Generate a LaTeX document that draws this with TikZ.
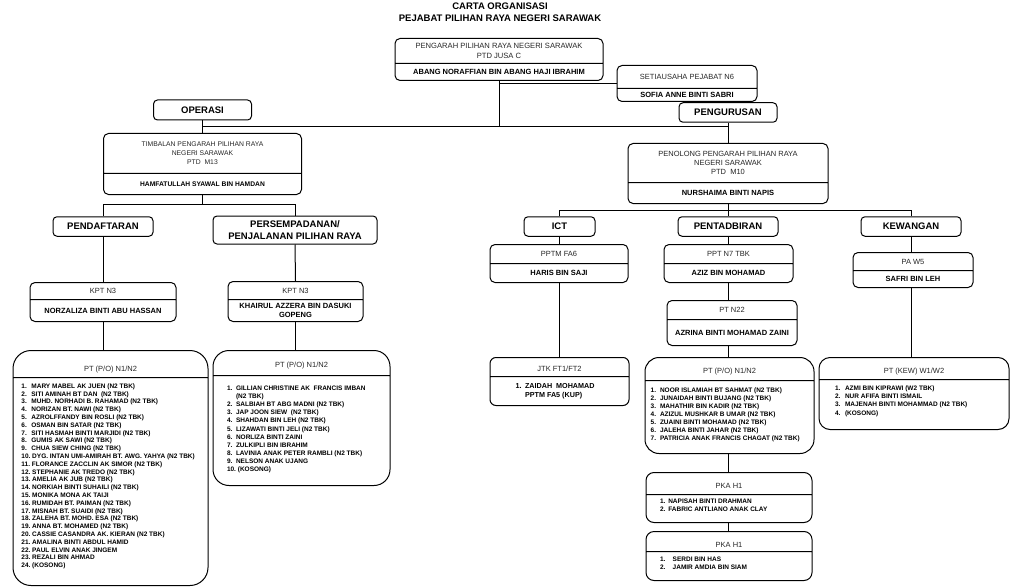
\documentclass[tikz,border=0pt]{standalone}
\usepackage{fontspec}
\setmainfont{Liberation Sans}
\usetikzlibrary{shapes.multipart}

\newlength\numw
\newcommand\ttl{\fontsize{7.5}{8.8}\selectfont\color{black!85}}
\newcommand\nm{\fontsize{7.5}{9}\selectfont\bfseries}
\newcommand\itm[2]{\leavevmode\setbox0\hbox{#1\ }%
  \ifdim\wd0>\numw\box0\else\makebox[\numw][l]{#1}\fi#2\par}
% role box: width, top height, title, bottom height, name
\newcommand\rolebox[5]{\parbox[c][#2][c]{#1}{\centering\ttl #3}%
  \nodepart{two}\parbox[c][#4][c]{#1}{\centering\nm #5}}
% staff list: width, top height, title, bottom height, top gap, left skip, items
\newcommand\staffbox[7]{\parbox[c][#2][c]{#1}{\centering\ttl #3}%
  \nodepart{two}\parbox[c][#4][t]{#1}{\fontsize{6.5}{8}\selectfont\bfseries
    \leftskip=#6\relax\vspace*{#5}#7}}

\begin{document}
\begin{tikzpicture}[x=1pt, y=-1pt,
    unit/.style={draw, line width=1pt, rounded corners=5pt,
                 rectangle split, rectangle split parts=2,
                 inner sep=0pt, anchor=north},
    roster/.style={unit, rounded corners=#1},
    roster/.default=10pt,
    sect/.style={draw, line width=1pt, rounded corners=4pt,
                 minimum height=19.5pt, inner sep=1pt, align=center,
                 font=\fontsize{9.5}{12.7}\selectfont\bfseries},
    link/.style={line width=1pt}]
\useasboundingbox (0,0) rectangle (1024,588);

% title
\node[font=\fontsize{9.5}{11.5}\selectfont\bfseries, align=center] (title) at (500,12)
  {CARTA ORGANISASI\\PEJABAT PILIHAN RAYA NEGERI SARAWAK};

% top level
\node[unit] (pengarah) at (499,38) {\rolebox{208pt}{24pt}
  {\fontsize{7.6}{10}\selectfont PENGARAH PILIHAN RAYA NEGERI SARAWAK\\PTD JUSA C}
  {16pt}{ABANG NORAFFIAN BIN ABANG HAJI IBRAHIM}};
\node[unit] (setia) at (687,65) {\rolebox{140pt}{22pt}{SETIAUSAHA PEJABAT N6}
  {12pt}{SOFIA ANNE BINTI SABRI}};

% sections
\node[sect, minimum width=98pt, minimum height=20pt] (operasi) at (202.5,110) {OPERASI};
\node[sect, minimum width=98pt] (pengurusan) at (728,112.5) {PENGURUSAN};

\node[unit] (timbalan) at (202.5,133) {\rolebox{198pt}{39pt}
  {\fontsize{6.8}{9}\selectfont TIMBALAN PENGARAH PILIHAN RAYA\\NEGERI SARAWAK\\PTD\ \ M13}
  {20pt}{\fontsize{6.7}{8}\selectfont HAMFATULLAH SYAWAL BIN HAMDAN}};
\node[unit] (penolong) at (728,143) {\rolebox{200pt}{38pt}
  {PENOLONG PENGARAH PILIHAN RAYA\\NEGERI SARAWAK\\PTD\ \ M10}
  {20pt}{NURSHAIMA BINTI NAPIS}};

\node[sect, minimum width=100pt] (pendaftaran) at (103,226.5) {PENDAFTARAN};
\node[sect, minimum width=164pt, minimum height=28pt] (sempadan) at (295,230)
  {PERSEMPADANAN/\\PENJALANAN PILIHAN RAYA};
\node[sect, minimum width=71pt] (ict) at (559.5,226.5) {ICT};
\node[sect, minimum width=100pt] (pentadbiran) at (728,226.5) {PENTADBIRAN};
\node[sect, minimum width=100pt] (kewangan) at (911,226.5) {KEWANGAN};

% operasi side
\node[unit] (kptA) at (103,282) {\rolebox{146pt}{16pt}{KPT N3}
  {21pt}{NORZALIZA BINTI ABU HASSAN}};
\node[unit] (kptB) at (295.5,281) {\rolebox{135pt}{17pt}{KPT N3}
  {21pt}{KHAIRUL AZZERA BIN DASUKI\\GOPENG}};

\node[roster=18pt] (listA) at (110.5,350) {\staffbox{195pt}{26pt}
  {\vspace*{11pt}PT (P/O) N1/N2}{207pt}{5.5pt}{8.4pt}{%
  \setlength\numw{10pt}\baselineskip=7.8pt
  \itm{1.}{MARY MABEL AK JUEN (N2 TBK)}
  \itm{2.}{SITI AMINAH BT DAN\ \ (N2 TBK)}
  \itm{3.}{MUHD. NORHADI B. RAHAMAD (N2 TBK)}
  \itm{4.}{NORIZAN BT. NAWI (N2 TBK)}
  \itm{5.}{AZROLFFANDY BIN ROSLI (N2 TBK)}
  \itm{6.}{OSMAN BIN SATAR (N2 TBK)}
  \itm{7.}{SITI HASMAH BINTI MARJIDI (N2 TBK)}
  \itm{8.}{GUMIS AK SAWI (N2 TBK)}
  \itm{9.}{CHUA SIEW CHING (N2 TBK)}
  \itm{10.}{DYG. INTAN UMI-AMIRAH BT. AWG. YAHYA (N2 TBK)}
  \itm{11.}{FLORANCE ZACCLIN AK SIMOR (N2 TBK)}
  \itm{12.}{STEPHANIE AK TREDO (N2 TBK)}
  \itm{13.}{AMELIA AK JUB (N2 TBK)}
  \itm{14.}{NORKIAH BINTI SUHAILI (N2 TBK)}
  \itm{15.}{MONIKA MONA AK TAIJI}
  \itm{16.}{RUMIDAH BT. PAIMAN (N2 TBK)}
  \itm{17.}{MISNAH BT. SUAIDI (N2 TBK)}
  \itm{18.}{ZALEHA BT. MOHD. ESA (N2 TBK)}
  \itm{19.}{ANNA BT. MOHAMED (N2 TBK)}
  \itm{20.}{CASSIE CASANDRA AK. KIERAN (N2 TBK)}
  \itm{21.}{AMALINA BINTI ABDUL HAMID}
  \itm{22.}{PAUL ELVIN ANAK JINGEM}
  \itm{23.}{REZALI BIN AHMAD}
  \itm{24.}{(KOSONG)}}};

\node[roster=16pt] (listB) at (301.5,350) {\staffbox{177pt}{24pt}
  {\vspace*{6pt}PT (P/O) N1/N2}{109pt}{10pt}{14pt}{%
  \setlength\numw{9pt}\baselineskip=8.1pt
  \itm{1.}{GILLIAN CHRISTINE AK\ \ FRANCIS IMBAN}
  \itm{}{(N2 TBK)}
  \itm{2.}{SALBIAH BT ABG MADNI (N2 TBK)}
  \itm{3.}{JAP JOON SIEW\ \ (N2 TBK)}
  \itm{4.}{SHAHDAN BIN LEH (N2 TBK)}
  \itm{5.}{LIZAWATI BINTI JELI (N2 TBK)}
  \itm{6.}{NORLIZA BINTI ZAINI}
  \itm{7.}{ZULKIPLI BIN IBRAHIM}
  \itm{8.}{LAVINIA ANAK PETER RAMBLI (N2 TBK)}
  \itm{9.}{NELSON ANAK UJANG}
  \itm{10.}{(KOSONG)}}};

% pengurusan side
\node[unit] (pptm) at (559,244) {\rolebox{138pt}{18pt}{PPTM FA6}{18pt}{HARIS BIN SAJI}};
\node[unit] (ppt) at (728.5,244) {\rolebox{129pt}{18pt}{PPT N7 TBK}{18pt}{AZIZ BIN MOHAMAD}};
\node[unit] (ptn22) at (732,300) {\rolebox{130pt}{18pt}{PT N22}
  {25pt}{AZRINA BINTI MOHAMAD ZAINI}};
\node[unit] (pa) at (913,252) {\rolebox{120pt}{17pt}{PA W5}{16pt}{SAFRI BIN LEH}};

\node[roster=6pt] (jtk) at (559.5,357) {\staffbox{139pt}{18pt}
  {\vspace*{4pt}JTK FT1/FT2}{28pt}{6.5pt}{25.7pt}{%
  \fontsize{7.2}{9}\selectfont\bfseries\setlength\numw{9.3pt}
  \itm{1.}{ZAIDAH\ \ MOHAMAD}
  \itm{}{PPTM FA5 (KUP)}}};

\node[roster=14pt] (ptC) at (729.5,357) {\staffbox{169pt}{22pt}
  {\vspace*{6pt}PT (P/O) N1/N2}{72pt}{6.5pt}{5.7pt}{%
  \setlength\numw{9.3pt}\baselineskip=8pt
  \itm{1.}{NOOR ISLAMIAH BT SAHMAT (N2 TBK)}
  \itm{2.}{JUNAIDAH BINTI BUJANG (N2 TBK)}
  \itm{3.}{MAHATHIR BIN KADIR (N2 TBK)}
  \itm{4.}{AZIZUL MUSHKAR B UMAR (N2 TBK)}
  \itm{5.}{ZUAINI BINTI MOHAMAD (N2 TBK)}
  \itm{6.}{JALEHA BINTI JAHAR (N2 TBK)}
  \itm{7.}{PATRICIA ANAK FRANCIS CHAGAT (N2 TBK)}}};

\node[roster=11pt] (kew) at (914,357) {\staffbox{190pt}{21pt}
  {\vspace*{6pt}PT (KEW) W1/W2}{49pt}{6pt}{16pt}{%
  \setlength\numw{10pt}\baselineskip=8.1pt
  \itm{1.}{AZMI BIN KIPRAWI (W2 TBK)}
  \itm{2.}{NUR AFIFA BINTI ISMAIL}
  \itm{3.}{MAJENAH BINTI MOHAMMAD (N2 TBK)}
  \itm{4.}{(KOSONG)}}};

\node[roster=8pt] (pka1) at (729,472) {\staffbox{166pt}{21pt}
  {\vspace*{5pt}PKA H1}{27pt}{4pt}{14pt}{%
  \setlength\numw{8.3pt}\baselineskip=8.4pt
  \itm{1.}{NAPISAH BINTI DRAHMAN}
  \itm{2.}{FABRIC ANTLIANO ANAK CLAY}}};

\node[roster=8pt] (pka2) at (729,531) {\staffbox{166pt}{19pt}
  {\vspace*{7pt}PKA H1}{28pt}{5.4pt}{14pt}{%
  \setlength\numw{12.7pt}\baselineskip=8pt
  \itm{1.}{SERDI BIN HAS}
  \itm{2.}{JAMIR AMDIA BIN SIAM}}};

% connectors
\coordinate (hq) at (499,127);
\coordinate (opsbus) at (202.5,204);
\coordinate (admbus) at (728,210);

\draw[link] (pengarah.south) -- (hq);
\draw[link] (pengarah.south |- setia.west) -- (setia.west);
\draw[link] (operasi.south |- hq) -- (pengurusan.south |- hq);
\draw[link] (operasi.south) -- (timbalan.north);
\draw[link] (pengurusan.south) -- (penolong.north);
\draw[link] (timbalan.south) -- (opsbus) -| (pendaftaran.north);
\draw[link] (opsbus) -| (sempadan.north);
\draw[link] (pendaftaran.south) -- (kptA.north);
\draw[link] (kptA.south) -- (kptA.south |- listA.north);
\draw[link] (sempadan.south) -- (kptB.north);
\draw[link] (kptB.south) -- (kptB.south |- listB.north);
\draw[link] (penolong.south) -- (admbus);
\draw[link] (admbus) -| (ict.north);
\draw[link] (admbus) -| (kewangan.north);
\draw[link] (admbus) -- (pentadbiran.north);
\draw[link] (ict.south) -- (ict.south |- pptm.north);
\draw[link] (pptm.south) -- (pptm.south |- jtk.north);
\draw[link] (pentadbiran.south) -- (pentadbiran.south |- ppt.north);
\draw[link] (pentadbiran.south |- ppt.south) -- (pentadbiran.south |- ptn22.north);
\draw[link] (pentadbiran.south |- ptn22.south) -- (pentadbiran.south |- ptC.north);
\draw[link] (pentadbiran.south |- ptC.south) -- (pentadbiran.south |- pka1.north);
\draw[link] (pentadbiran.south |- pka1.south) -- (pentadbiran.south |- pka2.north);
\draw[link] (kewangan.south) -- (kewangan.south |- pa.north);
\draw[link] (kewangan.south |- pa.south) -- (kewangan.south |- kew.north);
\end{tikzpicture}
\end{document}
